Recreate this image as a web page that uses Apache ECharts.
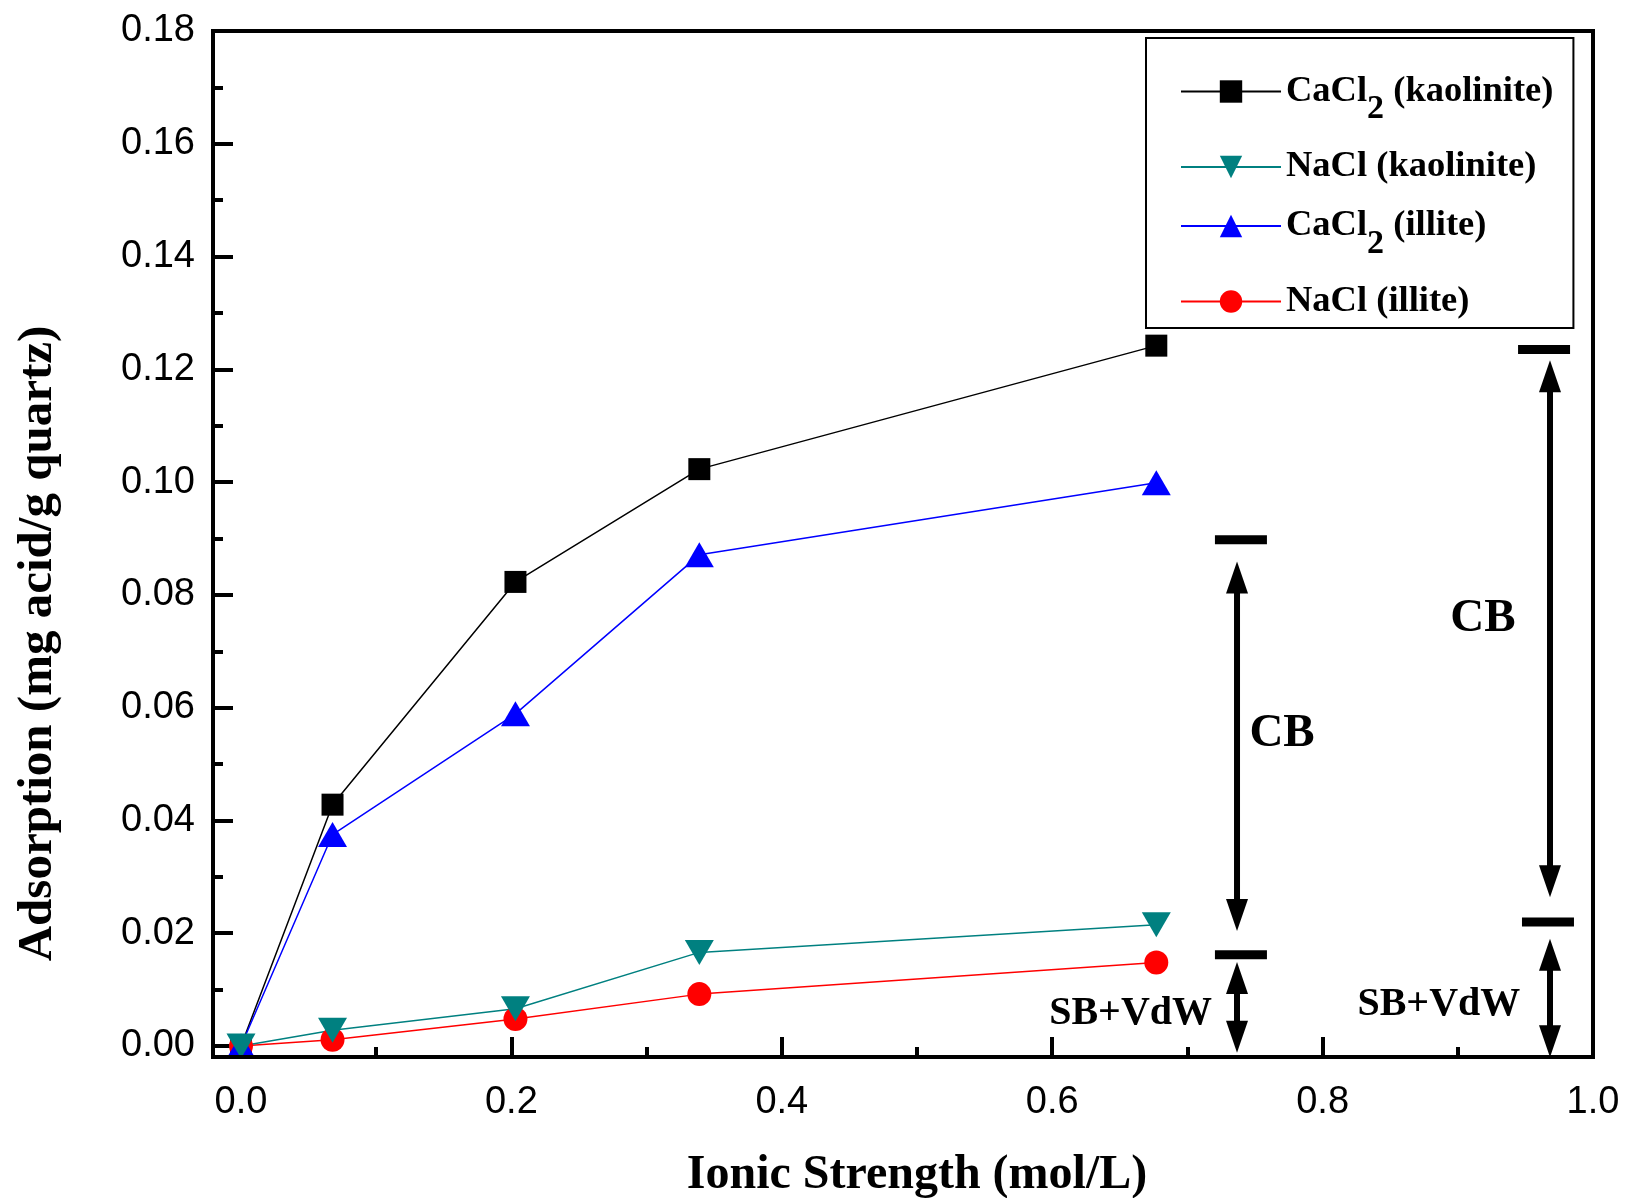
<!DOCTYPE html>
<html>
<head>
<meta charset="utf-8">
<title>Adsorption vs Ionic Strength</title>
<script src="https://cdn.jsdelivr.net/npm/echarts@6/dist/echarts.min.js"></script>
<style>
html, body { margin: 0; padding: 0; background: #fff; }
#chart { width: 1630px; height: 1198px; }
</style>
</head>
<body>
<div id="chart"></div>
<script>
// data
var ionicStrength = [0, 0.0677, 0.203, 0.339, 0.677];
var cacl2Kaolinite = [0, 0.0428, 0.0823, 0.1023, 0.1242];
var naclKaolinite = [0, 0.0028, 0.0066, 0.0166, 0.0215];
var cacl2Illite = [0, 0.0375, 0.0589, 0.0871, 0.0999];
var naclIllite = [0, 0.0011, 0.0048, 0.0092, 0.0148];

var xTicks = [0, 0.2, 0.4, 0.6, 0.8, 1.0];
var yTicks = [0, 0.02, 0.04, 0.06, 0.08, 0.10, 0.12, 0.14, 0.16, 0.18];

// annotations (CB / SB+VdW brackets)
var capX = [0.7396, 0.7396, 0.9638, 0.9667];
var capY = [0.0898, 0.0162, 0.1235, 0.0220];
var arrowX = [0.7367, 0.7367, 0.9682, 0.9682];
var arrowLow = [0.0204, -0.0012, 0.0264, -0.0020];
var arrowHigh = [0.0859, 0.0149, 0.1216, 0.0190];
var noteText = ['CB', 'SB+VdW', 'CB', 'SB+VdW'];
var noteX = [0.770, 0.658, 0.9186, 0.886];
var noteY = [0.0553, 0.0057, 0.0758, 0.0073];

var serif = 'Liberation Serif';
var sans = 'Liberation Sans';

// plot box
var box = { left: 213, top: 31, right: 1593, bottom: 1057 };
var gridLeft = 241, gridBottom = 1046;

function pairs(ys) {
  return ionicStrength.map(function (x, i) { return [x, ys[i]]; });
}

var chart = echarts.init(document.getElementById('chart'));

var option = {
  animation: false,
  backgroundColor: '#fff',
  grid: {
    left: gridLeft,
    right: 1630 - box.right,
    top: box.top,
    bottom: 1198 - gridBottom,
    outerBoundsMode: 'none',
    containLabel: false
  },
  graphic: [{
    type: 'rect',
    z: 50,
    shape: { x: box.left, y: box.top, width: box.right - box.left, height: box.bottom - box.top },
    style: { fill: 'none', stroke: '#000', lineWidth: 4 }
  }],
  legend: {
    orient: 'vertical',
    left: 1146,
    top: 38,
    padding: [35, 20, 8, 34],
    itemGap: 22,
    itemWidth: 100,
    itemHeight: 28,
    borderColor: '#000',
    borderWidth: 2,
    backgroundColor: '#fff',
    data: ['CaCl2 (kaolinite)', 'NaCl (kaolinite)', 'CaCl2 (illite)', 'NaCl (illite)'],
    formatter: function (name) { return name.replace('Cl2', 'Cl{s|2}'); },
    textStyle: {
      fontFamily: serif, fontWeight: 'bold', fontSize: 36.5, color: '#000',
      rich: {
        s: { fontFamily: serif, fontWeight: 'bold', fontSize: 34, color: '#000', padding: [36, 0, 0, 0] }
      }
    }
  },
  xAxis: {
    type: 'value',
    min: xTicks[0],
    max: xTicks[xTicks.length - 1],
    interval: 0.2,
    offset: box.bottom - gridBottom,
    axisLine: { show: false, onZero: false },
    axisTick: { inside: true, length: 20, lineStyle: { color: '#000', width: 4 } },
    minorTick: { show: true, splitNumber: 2, length: 10, lineStyle: { color: '#000', width: 4 } },
    splitLine: { show: false },
    axisLabel: {
      margin: 27, color: '#000', fontFamily: sans, fontSize: 38,
      formatter: function (v) { return v.toFixed(1); }
    },
    name: 'Ionic Strength (mol/L)',
    nameLocation: 'middle',
    nameGap: 95,
    nameTextStyle: { fontFamily: serif, fontWeight: 'bold', fontSize: 48, color: '#000' }
  },
  yAxis: {
    type: 'value',
    min: yTicks[0],
    max: yTicks[yTicks.length - 1],
    interval: 0.02,
    offset: gridLeft - box.left,
    axisLine: { show: false, onZero: false },
    axisTick: { inside: true, length: 20, lineStyle: { color: '#000', width: 4 } },
    minorTick: { show: true, splitNumber: 2, length: 10, lineStyle: { color: '#000', width: 4 } },
    splitLine: { show: false },
    axisLabel: {
      margin: 18, color: '#000', fontFamily: sans, fontSize: 38,
      formatter: function (v) { return v.toFixed(2); }
    },
    name: 'Adsorption (mg acid/g quartz)',
    nameLocation: 'middle',
    nameGap: 150,
    nameTextStyle: {
      fontFamily: serif, fontWeight: 'bold', fontSize: 49, color: '#000',
      padding: [0, 210, 0, 0]
    }
  },
  series: [
    {
      name: 'CaCl2 (kaolinite)', type: 'line', data: pairs(cacl2Kaolinite),
      symbol: 'rect', symbolSize: 22, color: '#000',
      lineStyle: { width: 1.5, color: '#000' }, itemStyle: { color: '#000' }
    },
    {
      name: 'NaCl (illite)', type: 'line', data: pairs(naclIllite),
      symbol: 'circle', symbolSize: 24, color: '#ff0000',
      lineStyle: { width: 1.5, color: '#ff0000' }, itemStyle: { color: '#ff0000' }
    },
    {
      name: 'CaCl2 (illite)', type: 'line', data: pairs(cacl2Illite),
      symbol: 'triangle', symbolSize: [29, 25], color: '#0000ff',
      lineStyle: { width: 1.5, color: '#0000ff' }, itemStyle: { color: '#0000ff' }
    },
    {
      name: 'NaCl (kaolinite)', type: 'line', data: pairs(naclKaolinite),
      symbol: 'triangle', symbolRotate: 180, symbolSize: [29, 25], color: '#008080',
      lineStyle: { width: 1.5, color: '#008080' }, itemStyle: { color: '#008080' }
    },
    {
      // horizontal caps
      type: 'custom', silent: true, z: 10,
      data: capX.map(function (x, i) { return [x, capY[i]]; }),
      renderItem: function (params, api) {
        var p = api.coord([api.value(0), api.value(1)]);
        return { type: 'rect', shape: { x: p[0] - 26, y: p[1] - 4.5, width: 52, height: 9 }, style: { fill: '#000' } };
      }
    },
    {
      // double headed arrows
      type: 'custom', silent: true, z: 10,
      encode: { x: 0, y: [1, 2] },
      data: arrowX.map(function (x, i) { return [x, arrowLow[i], arrowHigh[i]]; }),
      renderItem: function (params, api) {
        var x = api.value(0);
        var top = api.coord([x, api.value(2)]);
        var bot = api.coord([x, api.value(1)]);
        var L = 32, W = 11;
        return {
          type: 'group',
          children: [
            { type: 'line', shape: { x1: top[0], y1: top[1] + L - 4, x2: bot[0], y2: bot[1] - L + 4 }, style: { stroke: '#000', lineWidth: 6 } },
            { type: 'polygon', shape: { points: [[top[0], top[1]], [top[0] - W, top[1] + L], [top[0] + W, top[1] + L]] }, style: { fill: '#000' } },
            { type: 'polygon', shape: { points: [[bot[0], bot[1]], [bot[0] - W, bot[1] - L], [bot[0] + W, bot[1] - L]] }, style: { fill: '#000' } }
          ]
        };
      }
    },
    {
      // CB / SB+VdW labels
      type: 'custom', silent: true, z: 10,
      data: noteX.map(function (x, i) { return [x, noteY[i]]; }),
      renderItem: function (params, api) {
        var p = api.coord([api.value(0), api.value(1)]);
        var t = noteText[params.dataIndex];
        return {
          type: 'text',
          style: {
            text: t, x: p[0], y: p[1], align: 'center', verticalAlign: 'middle',
            fontFamily: serif, fontWeight: 'bold', fontSize: t === 'CB' ? 47 : 40, fill: '#000'
          }
        };
      }
    }
  ]
};

chart.setOption(option);
</script>
</body>
</html>
